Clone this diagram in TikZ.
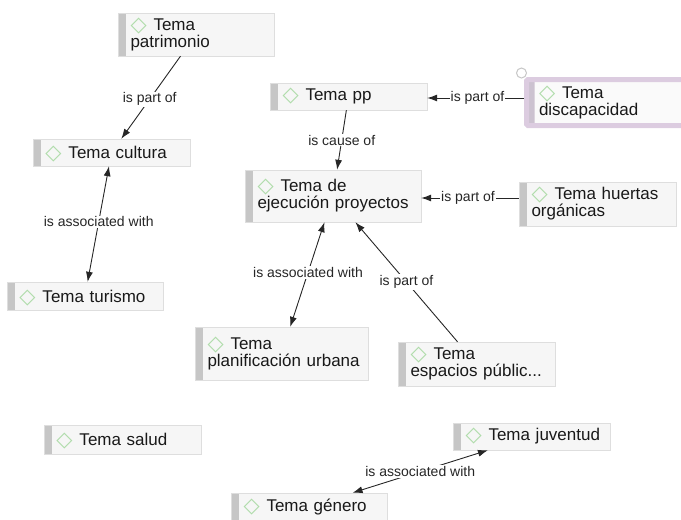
\documentclass[tikz,border=0pt]{standalone}
\usepackage{fontspec}
\usetikzlibrary{arrows.meta}
\setmainfont{Liberation Sans}
\newfontfamily\symfont{DejaVu Sans}
\definecolor{diagreen}{RGB}{175,220,170}
\definecolor{barcol}{RGB}{198,198,198}
\definecolor{boxline}{RGB}{222,222,222}
\definecolor{boxfill}{RGB}{246,246,246}
\definecolor{lilac}{RGB}{220,204,224}
\definecolor{lilacbar}{RGB}{204,194,208}
\newcommand{\tdia}{\makebox[23pt][l]{\smash{\raisebox{-1pt}{\fontsize{21}{21}\symfont\bfseries\textcolor{diagreen}{◇}}}}}
\tikzset{
  topic/.style 2 args={draw=boxline, fill=boxfill, rectangle, minimum height=#2, text width=#1-16pt,
    font=\fontsize{17}{17}\selectfont, text=black!90, align=left, inner ysep=0pt, inner xsep=8pt,
    execute at begin node={\leftskip=4.5pt}},
  bar/.style={path picture={\fill[#1] (path picture bounding box.south west) rectangle
    ([xshift=8pt]path picture bounding box.north west);}},
  bar/.default=barcol,
  conn/.style={draw=black!85, line width=0.9pt, >={Latex[length=10pt,width=7pt]}},
  lbl/.style={fill=white, inner sep=1pt, font=\fontsize{14}{15}\selectfont, text=black!85},
}
\begin{document}
\begin{tikzpicture}[x=1pt,y=-1pt]
\useasboundingbox (0,0) rectangle (681,520);
% topics
\node[topic={156pt}{43pt},bar] (patrimonio) at (196,34.5) {\tdia Tema\\patrimonio};
\node[topic={157pt}{27pt},bar] (pp) at (348.5,96.5) {\tdia Tema pp};
\node[topic={157pt}{27pt},bar] (cultura) at (111.5,152.5) {\tdia Tema cultura};
\node[topic={176pt}{52pt},bar] (ejecucion) at (333,196) {\tdia Tema de\\ejecución proyectos};
\node[topic={157pt}{44pt},bar] (huertas) at (597.5,204) {\tdia Tema huertas\\orgánicas};
\node[topic={156pt}{28pt},bar] (turismo) at (85,296) {\tdia Tema turismo};
\node[topic={173pt}{53pt},bar] (planificacion) at (281.5,353.5) {\tdia Tema\\planificación urbana};
\node[topic={157pt}{44pt},bar] (espacios) at (476.5,364) {\tdia Tema\\espacios públic...};
\node[topic={157pt}{29pt},bar] (salud) at (122.5,439.5) {\tdia Tema salud};
\node[topic={157pt}{27pt},bar] (juventud) at (531.5,436.5) {\tdia Tema juventud};
\node[topic={156pt}{27pt},bar] (genero) at (309,506.5) {\tdia Tema género};
\node[topic={170pt}{46pt},bar=lilacbar,draw=lilac,fill=white!98!black,line width=5pt,rounded corners=1.5pt] (discapacidad) at (611.5,102.5) {\tdia Tema\\discapacidad};
\node[circle,draw=black!22,line width=1pt,fill=white,inner sep=0pt,minimum size=10pt] (handle) at (521.5,73) {};
% connectors
\draw[conn,->] (patrimonio) -- node[lbl,pos=.52] (l1) {is part of} (cultura);
\draw[conn,->] (pp) -- node[lbl,pos=.5] (l2) {is cause of} (ejecucion);
\draw[conn,->] ([yshift=4.5pt]discapacidad.west) -- node[lbl,pos=.48] (l3) {is part of} ([yshift=-1.5pt]pp.east);
\draw[conn,->] ([yshift=6pt]huertas.west) -- node[lbl,pos=.52] (l4) {is part of} ([yshift=-2pt]ejecucion.east);
\draw[conn,<->] (cultura) -- node[lbl,pos=.48] (l5) {is associated with} (turismo);
\draw[conn,<->] (ejecucion) -- node[lbl,pos=.48] (l6) {is associated with} (planificacion);
\draw[conn,->] (espacios) -- node[lbl,pos=.5] (l7) {is part of} (ejecucion);
\draw[conn,<->] (juventud) -- node[lbl,pos=.5] (l8) {is associated with} (genero);
\end{tikzpicture}
\end{document}
